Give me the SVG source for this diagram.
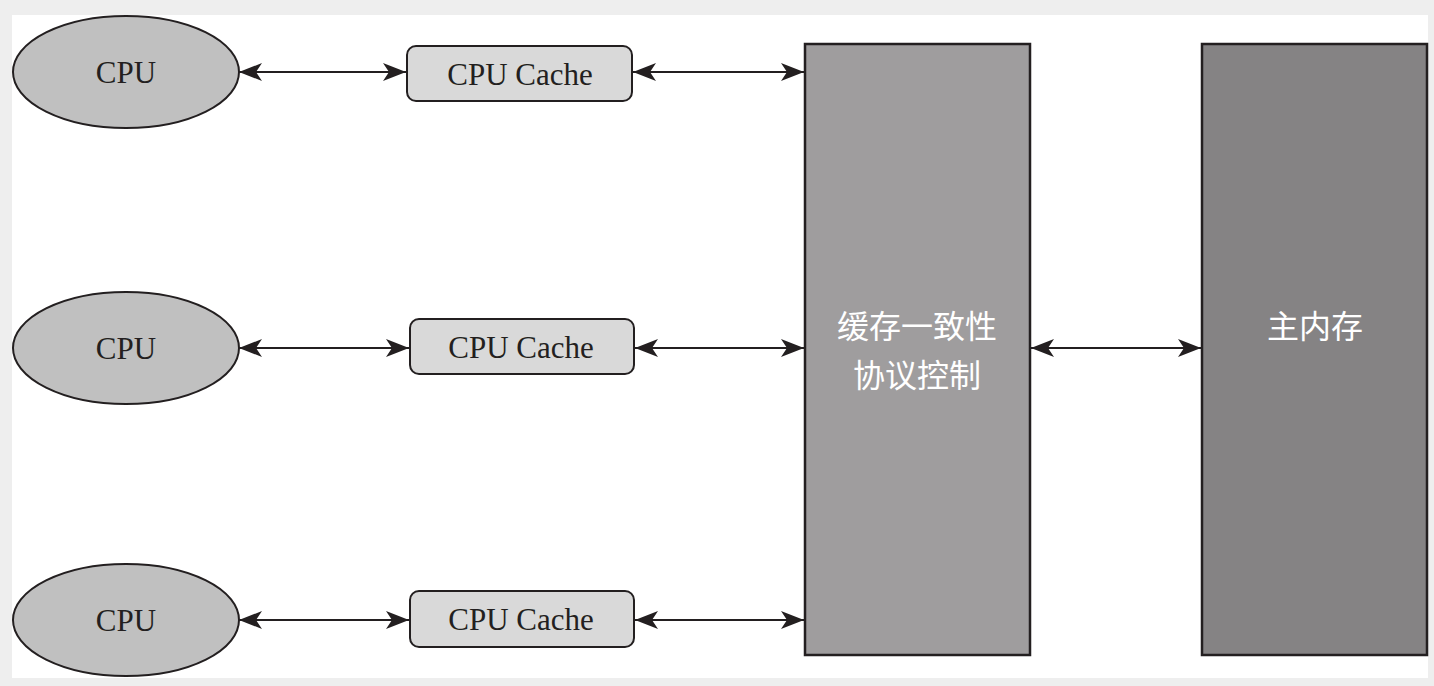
<svg xmlns="http://www.w3.org/2000/svg" width="1434" height="686" viewBox="0 0 1434 686">
<style>
.cpu{fill:#c0c0c0;stroke:#231f20;stroke-width:2}
.cache{fill:#d9d9d9;stroke:#231f20;stroke-width:2}
.ctl{fill:#9f9d9e;stroke:#231f20;stroke-width:2.5}
.mem{fill:#858384;stroke:#231f20;stroke-width:2.5}
.lbl{font-family:"Liberation Serif","Times New Roman",serif;font-size:31px;fill:#231f20;text-anchor:middle}
.cn{font-family:"Noto Sans CJK SC","Noto Sans",sans-serif;font-size:32px;fill:#ffffff;text-anchor:middle}
.conn line{stroke:#231f20;stroke-width:2;marker-start:url(#ah);marker-end:url(#ah)}
</style>
<defs>
<marker id="ah" viewBox="0 0 23 18" refX="23" refY="9" markerWidth="23" markerHeight="18" markerUnits="userSpaceOnUse" orient="auto-start-reverse">
<path d="M0,0 L23,9 L0,18 L6,9 Z" fill="#231f20"/>
</marker>
</defs>
<rect width="1434" height="686" fill="#eeeeee"/>
<rect x="12" y="15" width="1416" height="663" fill="#ffffff"/>
<g id="cpu1"><ellipse class="cpu" cx="126" cy="72" rx="113" ry="56"/><text class="lbl" x="126" y="83">CPU</text></g>
<g id="cpu2"><ellipse class="cpu" cx="126" cy="348" rx="113" ry="56"/><text class="lbl" x="126" y="359">CPU</text></g>
<g id="cpu3"><ellipse class="cpu" cx="126" cy="620" rx="113" ry="56"/><text class="lbl" x="126" y="631">CPU</text></g>
<g id="cache1"><rect class="cache" x="407" y="46" width="225" height="55" rx="9"/><text class="lbl" x="520" y="85">CPU Cache</text></g>
<g id="cache2"><rect class="cache" x="410" y="319" width="224" height="55" rx="9"/><text class="lbl" x="521" y="358">CPU Cache</text></g>
<g id="cache3"><rect class="cache" x="410" y="591" width="224" height="56" rx="9"/><text class="lbl" x="521" y="630">CPU Cache</text></g>
<g id="controller"><rect class="ctl" x="805" y="44" width="225" height="611"/><text class="cn" x="917" y="338">缓存一致性</text><text class="cn" x="917" y="387">协议控制</text></g>
<g id="memory"><rect class="mem" x="1202" y="44" width="225" height="611"/><text class="cn" x="1315" y="338">主内存</text></g>
<g id="connectors" class="conn">
<line x1="239" y1="72" x2="406" y2="72"/>
<line x1="633" y1="72" x2="804" y2="72"/>
<line x1="239" y1="348" x2="409" y2="348"/>
<line x1="635" y1="348" x2="804" y2="348"/>
<line x1="239" y1="620" x2="409" y2="620"/>
<line x1="635" y1="620" x2="804" y2="620"/>
<line x1="1031" y1="348" x2="1201" y2="348"/>
</g>
</svg>
